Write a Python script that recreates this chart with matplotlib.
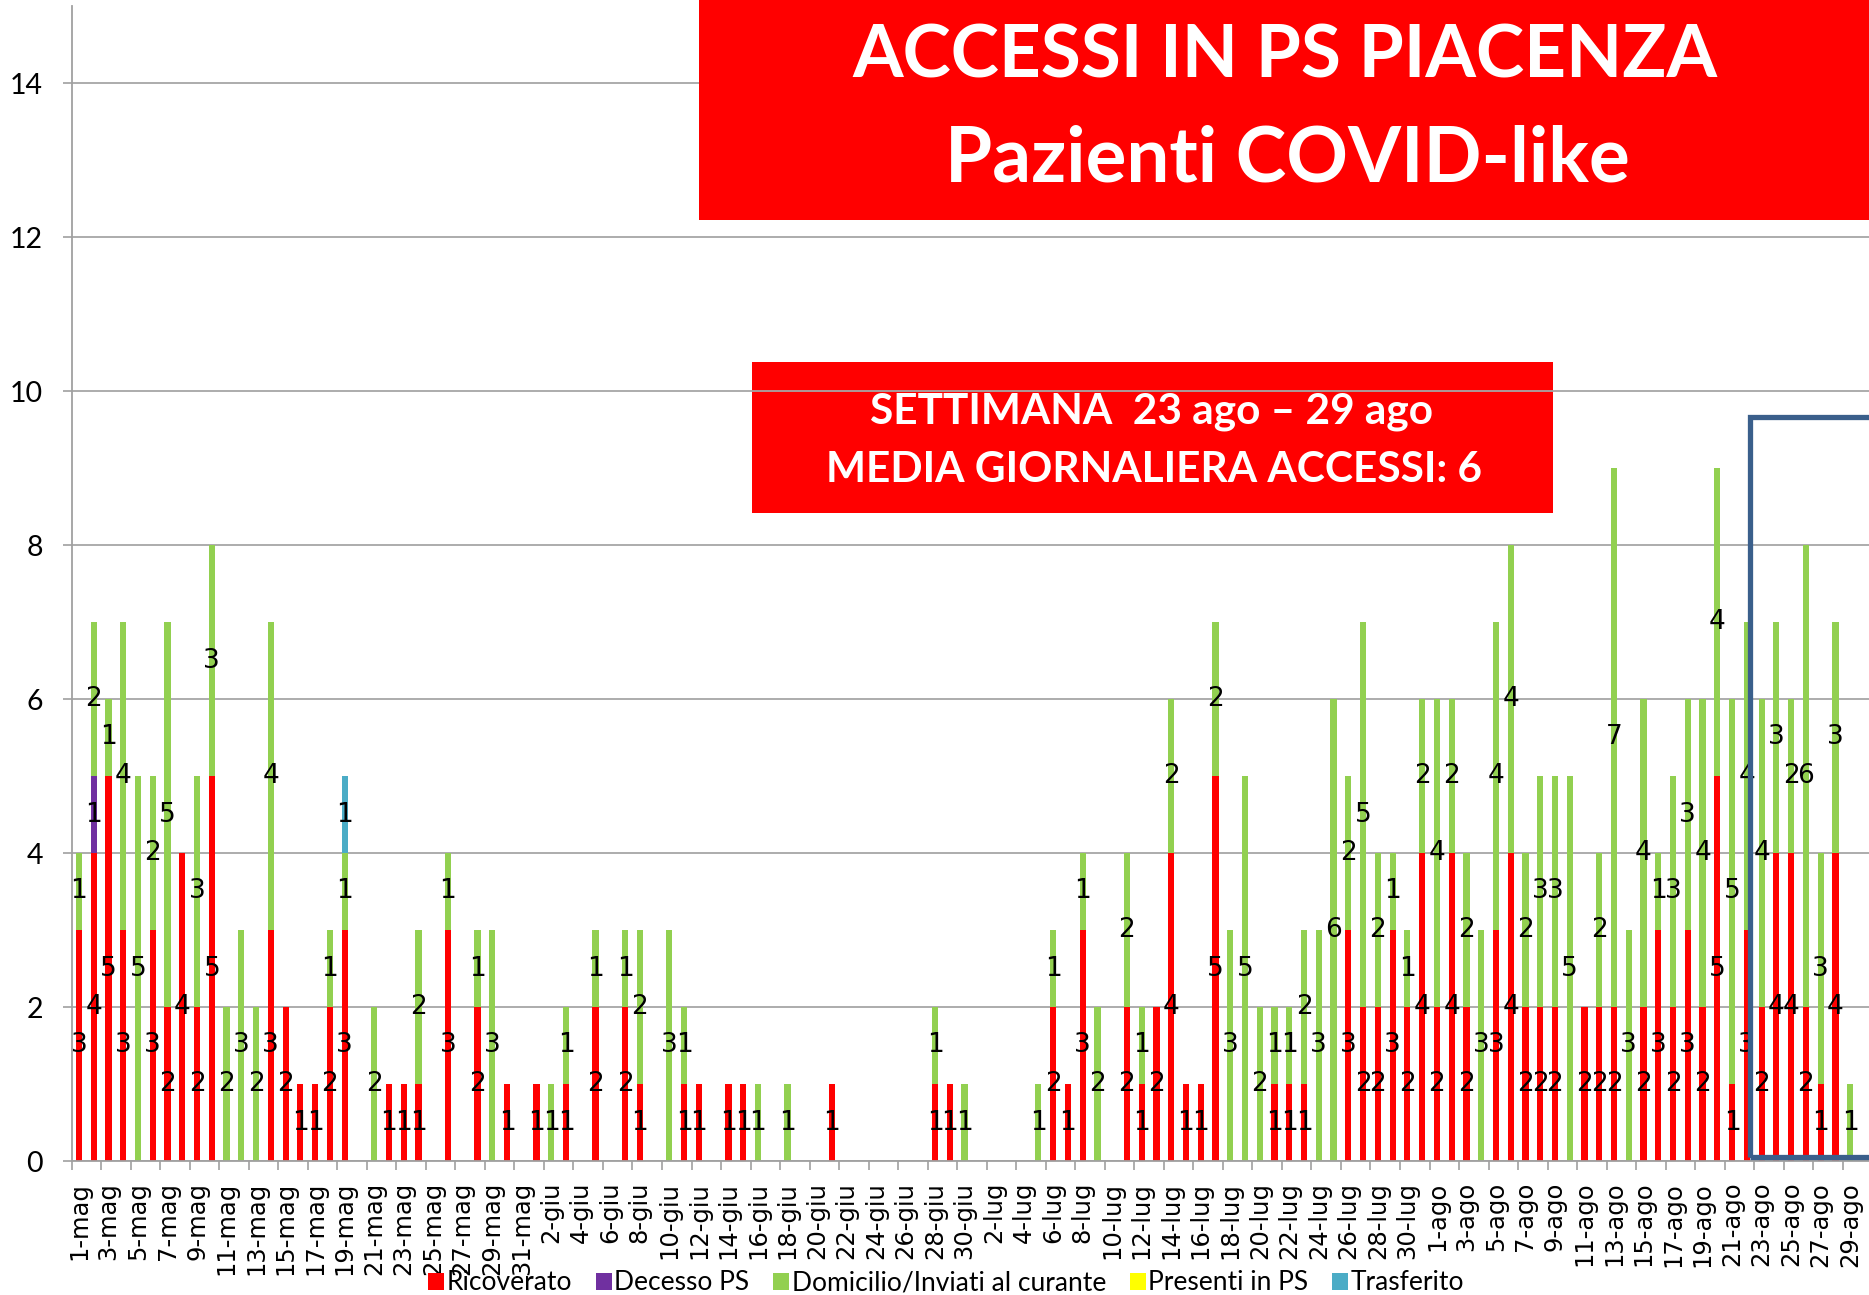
import matplotlib
matplotlib.use("Agg")
import matplotlib.pyplot as plt
from matplotlib.patches import Rectangle, Patch
import numpy as np

# ---------------- data ----------------
months = ["mag", "giu", "lug", "ago"]
month_days = [31, 30, 31, 29]
dates = [f"{d}-{m}" for m, n in zip(months, month_days) for d in range(1, n + 1)]

ricoverato = [
    # maggio
    3, 4, 5, 3, 0, 3, 2, 4, 2, 5, 0, 0, 0, 3, 2, 1, 1, 2, 3, 0,
    0, 1, 1, 1, 0, 3, 0, 2, 0, 1, 0,
    # giugno
    1, 0, 1, 0, 2, 0, 2, 1, 0, 0, 1, 1, 0, 1, 1, 0, 0, 0, 0, 0,
    1, 0, 0, 0, 0, 0, 0, 1, 1, 0,
    # luglio
    0, 0, 0, 0, 0, 2, 1, 3, 0, 0, 2, 1, 2, 4, 1, 1, 5, 0, 0, 0,
    1, 1, 1, 0, 0, 3, 2, 2, 3, 2, 4,
    # agosto
    2, 4, 2, 0, 3, 4, 2, 2, 2, 0, 2, 2, 2, 0, 2, 3, 2, 3, 2, 5,
    1, 3, 2, 4, 4, 2, 1, 4, 0,
]
decesso = [0] * 121
decesso[1] = 1
domicilio = [
    # maggio
    1, 2, 1, 4, 5, 2, 5, 0, 3, 3, 2, 3, 2, 4, 0, 0, 0, 1, 1, 0,
    2, 0, 0, 2, 0, 1, 0, 1, 3, 0, 0,
    # giugno
    0, 1, 1, 0, 1, 0, 1, 2, 0, 3, 1, 0, 0, 0, 0, 1, 0, 1, 0, 0,
    0, 0, 0, 0, 0, 0, 0, 1, 0, 1,
    # luglio
    0, 0, 0, 0, 1, 1, 0, 1, 2, 0, 2, 1, 0, 2, 0, 0, 2, 3, 5, 2,
    1, 1, 2, 3, 6, 2, 5, 2, 1, 1, 2,
    # agosto
    4, 2, 2, 3, 4, 4, 2, 3, 3, 5, 0, 2, 7, 3, 4, 1, 3, 3, 4, 4,
    5, 4, 4, 3, 2, 6, 3, 3, 1,
]
presenti = [0] * 121
trasferito = [0] * 121
trasferito[18] = 1

series_names = ["Ricoverato", "Decesso PS", "Domicilio/Inviati al curante",
                "Presenti in PS", "Trasferito"]
series_values = [ricoverato, decesso, domicilio, presenti, trasferito]
series_colors = ["#FF0000", "#7030A0", "#92D050", "#FFFF00", "#4BACC6"]

yticks = [0, 2, 4, 6, 8, 10, 12, 14]

title_lines = ["ACCESSI IN PS PIACENZA", "Pazienti COVID-like"]
box_lines = ["SETTIMANA  23 ago \u2013 29 ago", "MEDIA GIORNALIERA ACCESSI: 6"]

# ---------------- figure ----------------
W, H = 1869, 1295
fig = plt.figure(figsize=(W / 100, H / 100), dpi=100)

def fx(px):
    return px / W

def fy(py):
    return 1 - py / H

ax_left, ax_bottom_px, ax_top_px = 71.6, 1161, 6
ax = fig.add_axes([fx(ax_left), fy(ax_bottom_px), 1 - fx(ax_left),
                   (ax_bottom_px - ax_top_px) / H])

n = len(dates)
x = np.arange(n)
bottom = np.zeros(n)
for name, vals, col in zip(series_names, series_values, series_colors):
    vals = np.array(vals, dtype=float)
    ax.bar(x, vals, width=0.42, bottom=bottom, color=col, linewidth=0,
           zorder=2)
    for i in range(n):
        if vals[i] > 0:
            ax.text(x[i], bottom[i] + vals[i] / 2, f"{int(vals[i])}",
                    ha="center", va="center", fontsize=19,
                    family="DejaVu Sans", color="black", zorder=4)
    bottom += vals

spacing = 14.76
ax.set_xlim(-0.5, (W - ax_left) / spacing - 0.5)
ax.set_ylim(0, 15)

ax.set_yticks(yticks)
ax.set_yticklabels([str(v) for v in yticks], fontsize=20.5, family="Lato")
ax.tick_params(axis="y", length=6.5, width=1.2, color="#A0A0A0", pad=14)

ax.set_xticks(x[::2])
ax.set_xticklabels(dates[::2], rotation=90, fontsize=17.5,
                   family="DejaVu Sans", va="top", ha="center")
ax.set_xticks(np.arange(-0.5, n, 2), minor=True)
ax.tick_params(axis="x", which="major", length=0, pad=15)
ax.tick_params(axis="x", which="minor", length=6.5, width=1.2,
               color="#A0A0A0")

ax.grid(axis="y", color="#A6A6A6", linewidth=1.3, zorder=0.5)
ax.set_axisbelow(True)
for s in ["top", "right"]:
    ax.spines[s].set_visible(False)
ax.spines["left"].set_color("#A0A0A0")
ax.spines["left"].set_linewidth(1.3)
ax.spines["bottom"].set_color("#A0A0A0")
ax.spines["bottom"].set_linewidth(1.3)

# weekly summary box (behind gridlines)
ax.add_patch(Rectangle((fx(752), fy(513)), fx(1553) - fx(752),
                       fy(362) - fy(513), transform=fig.transFigure,
                       facecolor="#FF0000", edgecolor="none", zorder=0.2))
fig.text(fx(1152), fy(423), box_lines[0], ha="center", va="baseline",
         fontsize=30.5, family="Lato", weight="bold", color="white", zorder=6)
fig.text(fx(1154), fy(482), box_lines[1], ha="center", va="baseline",
         fontsize=30.5, family="Lato", weight="bold", color="white", zorder=6)

# highlight rectangle for the last week
ax.add_patch(Rectangle((113.2, 0.05), 15, 9.61, facecolor="none",
                       edgecolor="#3A5F8B", linewidth=3.8, zorder=5,
                       joinstyle="miter"))

# title box
fig.add_artist(Rectangle((fx(699), fy(220)), 1 - fx(699), fy(0) - fy(220),
                         transform=fig.transFigure, facecolor="#FF0000",
                         edgecolor="none", zorder=10))
fig.text(fx(1285), fy(78), title_lines[0], ha="center", va="baseline",
         fontsize=52.5, family="Lato", weight="bold", color="white", zorder=11)
fig.text(fx(1287), fy(182), title_lines[1], ha="center", va="baseline",
         fontsize=55, family="Lato", weight="bold", color="white", zorder=11)

# legend
handles = [Patch(facecolor=c, edgecolor="none") for c in series_colors]
fig.legend(handles, series_names, loc="center", ncol=5,
           bbox_to_anchor=(fx(946), fy(1283)), frameon=False,
           prop={"family": "Lato", "size": 19}, handlelength=0.6,
           handleheight=0.6, handletextpad=0.1, columnspacing=0.9,
           borderaxespad=0, borderpad=0)

fig.savefig("out.png", dpi=100)
